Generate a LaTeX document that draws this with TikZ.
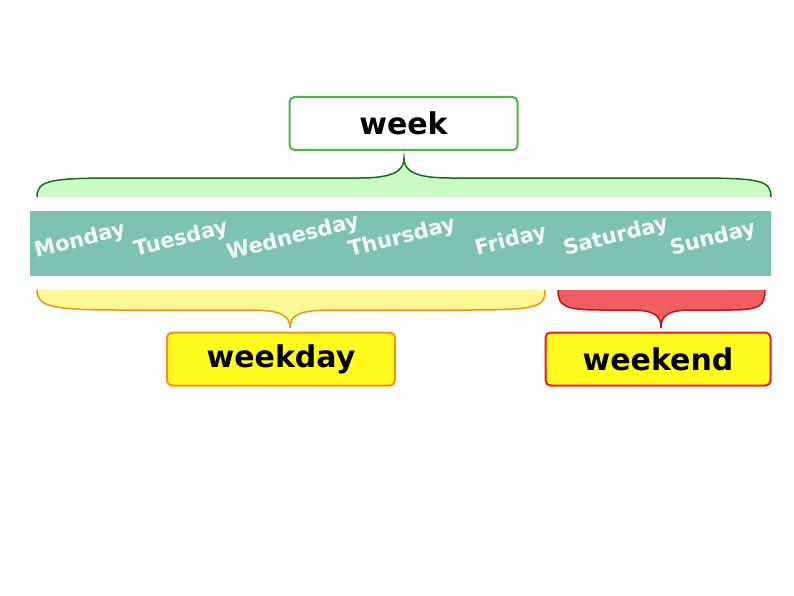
\documentclass[tikz,border=0pt]{standalone}
\usepackage{fontspec}
\setmainfont{DejaVu Sans}
\definecolor{weekgreen}{RGB}{80,180,70}
\definecolor{bracegreen}{RGB}{20,110,30}
\definecolor{lightgreen}{RGB}{204,250,196}
\definecolor{band}{RGB}{126,194,180}
\definecolor{dayyellow}{RGB}{255,248,150}
\definecolor{braceorange}{RGB}{240,150,20}
\definecolor{boxyellow}{RGB}{255,250,30}
\definecolor{weekred}{RGB}{230,30,40}
\definecolor{lightred}{RGB}{240,95,95}
\tikzset{
  labelbox/.style={rounded corners=5pt,line width=2pt,minimum width=228pt,minimum height=53pt,font=\fontsize{30}{34}\selectfont\bfseries},
  dayname/.style={rotate=14,inner sep=0pt,text=white!92!band,font=\fontsize{21}{24}\selectfont\bfseries}
}
\begin{document}
\begin{tikzpicture}[x=1pt,y=-1pt]
	\useasboundingbox (0,0) rectangle (794,596);
	% top brace
	\fill[lightgreen] (37,197) .. controls (37,180) and (50,178) .. (120,178) -- (360,178) .. controls (395,178) and (404,170) .. (404,158) .. controls (404,170) and (413,178) .. (450,178) -- (690,178) .. controls (760,178) and (771,180) .. (771,197) -- cycle;
	\draw[bracegreen,line width=1.5pt] (37,197) .. controls (37,180) and (50,178) .. (120,178) -- (360,178) .. controls (395,178) and (404,170) .. (404,158) .. controls (404,170) and (413,178) .. (450,178) -- (690,178) .. controls (760,178) and (771,180) .. (771,197);
	% days
	\fill[band] (30,211) rectangle (771,276);
	\node[dayname] (mon) at (80,241) {Monday};
	\node[dayname] (tue) at (181,239) {Tuesday};
	\node[dayname] (wed) at (293,238) {Wednesday};
	\node[dayname] (thu) at (402,238) {Thursday};
	\node[dayname] (fri) at (511,241) {Friday};
	\node[dayname] (sat) at (616,237) {Saturday};
	\node[dayname] (sun) at (713,239) {Sunday};
	% weekday brace
	\fill[dayyellow] (37,290) .. controls (37,306) and (50,310) .. (120,310) -- (250,310) .. controls (282,310) and (290,316) .. (290,328) .. controls (290,316) and (298,310) .. (330,310) -- (470,310) .. controls (540,310) and (545,306) .. (545,290) -- cycle;
	\draw[braceorange,line width=1.5pt] (37,290) .. controls (37,306) and (50,310) .. (120,310) -- (250,310) .. controls (282,310) and (290,316) .. (290,328) .. controls (290,316) and (298,310) .. (330,310) -- (470,310) .. controls (540,310) and (545,306) .. (545,290);
	% weekend brace
	\fill[lightred] (558,290) .. controls (558,306) and (565,310) .. (600,310) -- (630,310) .. controls (655,310) and (661,316) .. (661,328) .. controls (661,316) and (667,310) .. (692,310) -- (730,310) .. controls (760,310) and (765,306) .. (765,290) -- cycle;
	\draw[weekred!80!black,line width=1.5pt] (558,290) .. controls (558,306) and (565,310) .. (600,310) -- (630,310) .. controls (655,310) and (661,316) .. (661,328) .. controls (661,316) and (667,310) .. (692,310) -- (730,310) .. controls (760,310) and (765,306) .. (765,290);
	% labels
	\node[labelbox,draw=weekgreen,fill=white] (week) at (403.5,123.5) {week};
	\node[labelbox,draw=braceorange,fill=boxyellow] (weekday) at (281,359) {weekday};
	\node[labelbox,draw=weekred,fill=boxyellow,minimum width=225pt] (weekend) at (658,359) {weekend};
\end{tikzpicture}
\end{document}
